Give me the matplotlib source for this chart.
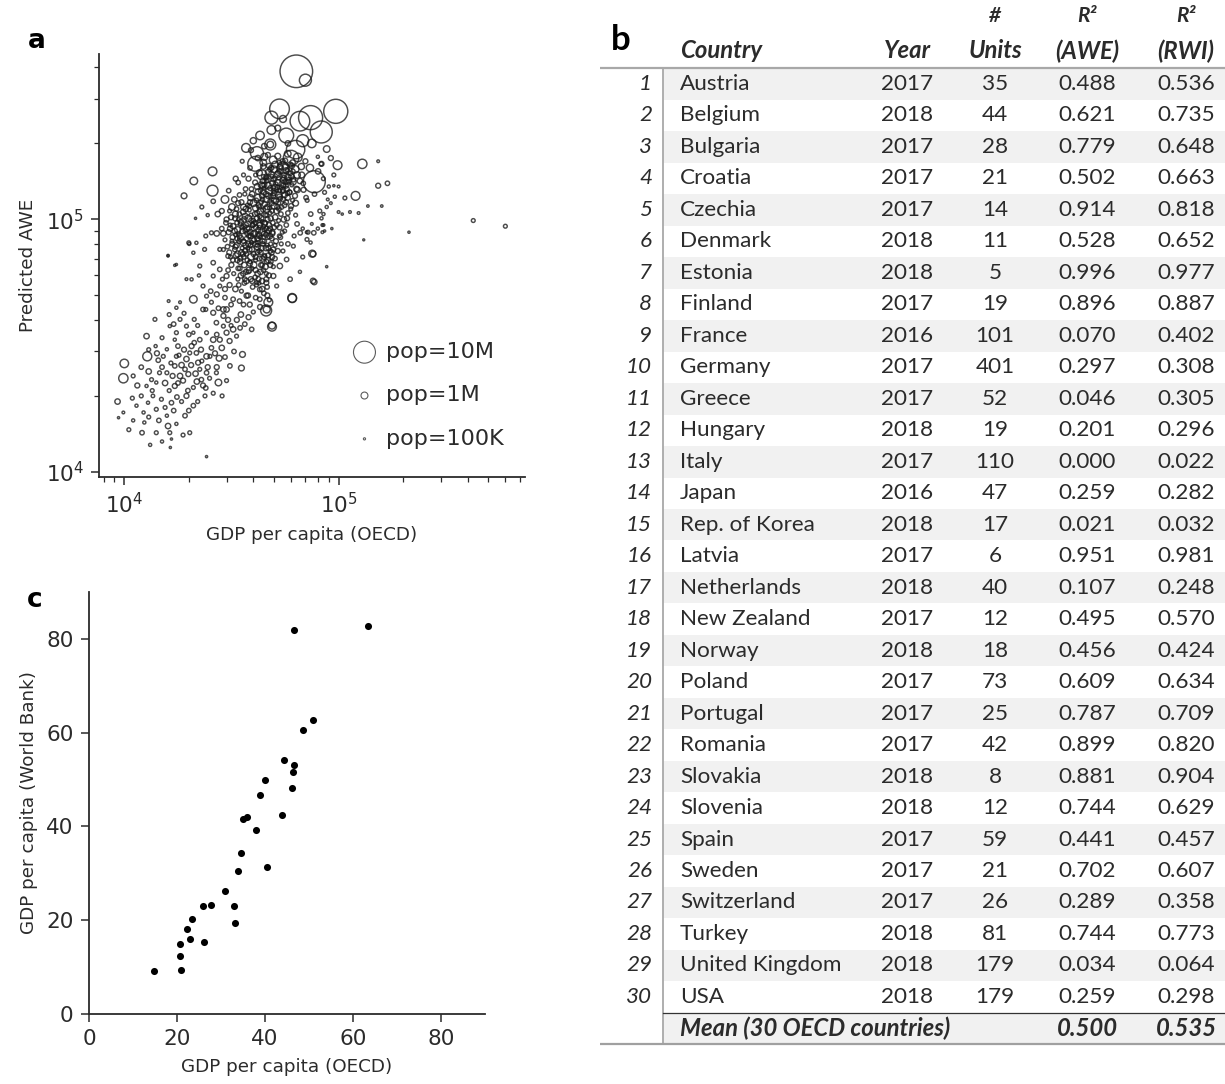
import numpy as np
import matplotlib.pyplot as plt
from matplotlib.patches import Rectangle

# ---- panel a: GDP per capita (k), predicted AWE (k), population (thousands)
a_big = [(63.5, 386, 22000), (70, 356, 3000), (53, 274, 8000), (97, 268, 12000),
         (74, 253, 12000), (66, 245, 8000), (83, 222, 10000), (63, 189, 7000),
         (57, 215, 4500), (48.6, 253, 3500), (48.6, 226, 1600), (48, 198, 2500),
         (48, 198, 900), (41.6, 183, 3500), (40.8, 166, 4500), (37, 192, 1600),
         (77, 141, 10000), (60, 175, 5000), (68, 205, 3000), (55, 160, 3000),
         (44, 150, 2000), (25.8, 155, 1600), (21.1, 142, 1200), (25.8, 130, 2500),
         (19.0, 124, 700), (98.9, 164, 1600), (129, 166, 1800), (120, 124, 1600)]

a_upper = [(42.0, 175, 600), (44.5, 168, 900), (46.8, 180, 500), (49.5, 172, 1200),
           (52.0, 178, 700), (54.8, 170, 500), (57.9, 182, 900), (61.0, 168, 600),
           (64.5, 176, 1500), (67.0, 162, 800), (70.0, 170, 500), (73.5, 160, 1100),
           (80.2, 155, 600), (83.2, 166, 500), (84.9, 145, 300), (81.7, 108, 300),
           (83.2, 101, 200), (74.1, 105, 400), (71.3, 119, 300), (77.2, 126, 400),
           (68.6, 131, 500), (67.3, 150, 700), (63.6, 132, 600), (61.2, 141, 900),
           (58.9, 128, 500), (56.6, 141, 600), (52.5, 146, 300), (50.4, 134, 800),
           (48.5, 160, 500), (45.9, 148, 400), (44.2, 136, 700), (45.0, 177, 1000),
           (38.6, 160, 400), (36.0, 150, 300), (34.0, 140, 400), (33.1, 145, 500),
           (30.7, 130, 400), (29.5, 120, 1200), (31.8, 112, 900), (27.3, 105, 600),
           (35.5, 170, 300), (40.0, 205, 800), (43.0, 215, 1500), (52.0, 230, 700),
           (55.0, 250, 1000), (58.0, 200, 600), (45.0, 195, 600), (39.0, 188, 500),
           (75, 200, 1500), (88, 190, 900), (92, 175, 500), (95, 150, 300),
           (90, 135, 200), (86, 128, 300), (100, 135, 150), (96, 123, 200),
           (92, 116, 150), (88, 112, 200), (84, 95, 150), (86, 90, 100),
           (80, 92, 200), (75, 96, 150), (72, 89, 300), (68, 92, 200),
           (64, 96, 400), (62, 86, 300), (58, 80, 400), (56, 90, 300), (55, 75, 300)]

a_core = [(44.5, 162, 600), (47.8, 158, 400), (50.6, 165, 900), (53.1, 155, 500),
          (56.2, 161, 700), (59.5, 152, 400), (62.8, 158, 1100), (48.9, 148, 300),
          (52.0, 151, 800), (55.5, 146, 500), (58.7, 143, 600), (45.9, 146, 400),
          (42.7, 153, 700), (40.8, 140, 500), (43.6, 137, 800), (46.2, 142, 300),
          (49.1, 139, 600), (51.8, 134, 400), (54.6, 138, 900), (57.3, 132, 500),
          (60.5, 137, 300), (64.2, 131, 700), (68.4, 139, 400), (39.2, 132, 400),
          (42.1, 129, 600), (44.8, 133, 300), (47.5, 130, 1000), (50.2, 127, 500),
          (53.0, 130, 300), (56.0, 125, 600), (59.2, 128, 400), (62.6, 124, 500),
          (36.5, 126, 300), (38.8, 122, 700), (41.3, 119, 400), (43.9, 124, 500),
          (46.0, 120, 800), (48.4, 123, 300), (50.9, 118, 600), (53.5, 121, 400),
          (56.8, 117, 500), (61.0, 119, 300), (70.5, 122, 400), (35.2, 117, 500),
          (37.6, 114, 300), (40.1, 116, 900), (42.6, 112, 400), (45.2, 115, 600),
          (47.6, 111, 300), (50.0, 113, 700), (52.7, 110, 400), (55.9, 114, 500),
          (59.8, 110, 300), (33.4, 110, 400), (35.9, 107, 600), (38.3, 109, 300),
          (40.7, 105, 500), (43.1, 108, 800), (45.5, 104, 400), (47.9, 106, 300),
          (50.6, 102, 600), (53.8, 105, 400), (57.5, 101, 500), (63.0, 104, 300),
          (31.5, 102, 500), (34.1, 100, 300), (36.6, 103, 700), (39.0, 99, 400),
          (41.6, 101, 600), (44.0, 98, 300), (46.6, 100, 500), (49.3, 97, 400),
          (52.5, 99, 300), (29.8, 97, 400), (32.2, 94, 600), (34.7, 96, 300),
          (37.2, 92, 800), (39.6, 95, 400), (42.2, 91, 500), (44.7, 94, 300),
          (47.3, 90, 600), (50.1, 93, 400), (54.6, 89, 300), (30.7, 89, 500),
          (33.1, 87, 300), (35.6, 90, 600), (38.1, 86, 400), (40.5, 88, 700),
          (43.2, 85, 300), (45.9, 87, 500), (48.8, 84, 400), (52.9, 86, 300),
          (29.5, 83, 300), (31.9, 80, 500), (34.3, 82, 400), (36.8, 79, 600),
          (39.2, 81, 300), (41.8, 78, 800), (44.3, 80, 400), (47.0, 77, 500),
          (50.5, 79, 300), (32.8, 76, 400), (35.2, 74, 600), (37.7, 77, 300),
          (40.1, 73, 500), (42.6, 75, 400), (45.2, 72, 300), (48.6, 74, 600),
          (31.3, 71, 300), (33.7, 69, 500), (36.1, 71, 400), (38.5, 67, 600),
          (41.0, 69, 300), (43.5, 66, 500), (46.2, 68, 400), (49.6, 65, 300),
          (34.6, 64, 400), (37.0, 62, 500), (39.4, 64, 300), (41.9, 61, 600),
          (44.6, 63, 400), (47.3, 60, 500), (33.9, 58, 300), (36.3, 56, 400),
          (38.9, 58, 500), (41.4, 55, 300), (43.9, 57, 600), (46.4, 54, 400),
          (35.2, 52, 300), (37.8, 50, 500), (44.8, 51, 400), (47.5, 48, 300)]

a_core2 = [(33.0, 105, 700), (35.0, 98, 500), (37.9, 101, 900), (40.3, 96, 600),
           (42.9, 103, 400), (45.0, 96, 700), (48.2, 101, 500), (51.5, 95, 400),
           (31.2, 92, 600), (33.8, 91, 800), (36.2, 94, 400), (38.7, 89, 700),
           (41.1, 93, 500), (43.8, 89, 900), (46.1, 92, 400), (49.0, 88, 600),
           (32.0, 85, 500), (34.9, 84, 700), (37.4, 88, 400), (39.9, 83, 900),
           (42.5, 87, 600), (45.0, 82, 400), (47.7, 86, 700), (51.0, 82, 500),
           (30.3, 78, 400), (33.4, 79, 600), (35.9, 81, 800), (38.4, 76, 500),
           (41.0, 80, 700), (43.7, 77, 600), (46.4, 79, 300), (49.5, 76, 500),
           (33.8, 73, 700), (36.6, 75, 500), (39.0, 71, 900), (41.8, 74, 400),
           (44.1, 70, 600), (47.0, 72, 500), (34.7, 68, 600), (37.5, 69, 400),
           (40.2, 66, 800), (42.7, 70, 500), (45.5, 65, 700), (48.3, 68, 400),
           (35.9, 61, 500), (38.2, 63, 700), (40.8, 59, 400), (43.2, 62, 600),
           (46.0, 58, 500), (37.1, 57, 600), (39.7, 54, 400), (42.3, 58, 500),
           (36.0, 112, 700), (38.6, 117, 500), (41.0, 111, 800), (43.5, 117, 400),
           (46.1, 110, 900), (48.8, 116, 500), (51.3, 108, 600), (54.2, 112, 400),
           (39.5, 126, 600), (42.0, 122, 900), (44.6, 128, 500), (47.1, 124, 700),
           (49.7, 130, 400), (52.4, 125, 800), (55.0, 131, 500), (57.8, 122, 600),
           (41.7, 135, 700), (44.2, 142, 500), (46.9, 136, 900), (49.6, 144, 400),
           (52.2, 140, 700), (55.3, 136, 500), (58.0, 147, 800), (61.5, 144, 500),
           (47.0, 154, 700), (50.0, 158, 900), (53.5, 162, 500), (57.0, 156, 700),
           (60.4, 163, 600), (64.0, 150, 900), (66.0, 142, 600), (63.0, 116, 700),
           (60.0, 113, 500), (58.0, 106, 400), (55.5, 100, 600), (53.0, 93, 500),
           (57.0, 95, 400), (30.0, 100, 500), (28.5, 92, 400), (29.0, 88, 600),
           (31.0, 108, 300), (34.0, 116, 500), (36.8, 132, 400), (38.0, 145, 500),
           (41.0, 150, 300), (34.5, 125, 400), (32.6, 120, 600), (48.0, 66, 500),
           (50.5, 70, 400), (52.0, 75, 500), (54.0, 80, 300), (53.5, 85, 400),
           (44.0, 53, 600), (46.5, 50, 500), (41.0, 49, 400), (38.5, 46, 500),
           (36.0, 46, 400), (40.0, 43, 300), (43.0, 45, 500)]

a_core3 = [(30.5, 63, 400), (31.6, 66, 500), (32.4, 61, 300), (33.2, 72, 600),
           (34.0, 64, 400), (34.8, 70, 500), (35.5, 77, 300), (36.3, 66, 600),
           (37.1, 73, 400), (37.9, 80, 500), (38.6, 68, 300), (39.4, 76, 600),
           (40.2, 83, 400), (41.0, 71, 500), (41.8, 79, 300), (42.6, 86, 600),
           (43.4, 74, 400), (44.2, 82, 500), (45.0, 91, 300), (45.8, 77, 600),
           (46.6, 85, 400), (47.4, 95, 500), (48.2, 80, 300), (49.0, 89, 600),
           (30.9, 74, 500), (31.8, 82, 300), (32.7, 90, 600), (33.6, 97, 400),
           (34.5, 86, 500), (35.4, 93, 300), (36.3, 100, 600), (37.2, 84, 400),
           (38.1, 92, 500), (39.0, 104, 300), (39.9, 88, 600), (40.8, 97, 400),
           (41.7, 106, 500), (42.6, 93, 300), (43.5, 101, 600), (44.4, 109, 400),
           (45.3, 97, 500), (46.2, 104, 300), (32.1, 69, 400), (33.0, 78, 500),
           (34.0, 88, 300), (35.0, 60, 600), (36.0, 82, 400), (37.0, 95, 500),
           (38.0, 62, 300), (39.0, 86, 600), (40.0, 99, 400), (41.0, 63, 500),
           (42.0, 81, 300), (43.0, 95, 600), (44.0, 66, 400), (45.0, 71, 500),
           (46.0, 61, 300), (47.0, 69, 600), (48.0, 75, 400), (49.0, 71, 500),
           (36.5, 58, 400), (39.5, 57, 500), (42.5, 56, 300), (34.2, 55, 400),
           (31.2, 95, 300), (32.9, 101, 500), (34.4, 105, 400), (36.9, 110, 600),
           (38.4, 113, 300), (33.7, 84, 500), (36.7, 90, 400), (39.7, 95, 500),
           (42.7, 99, 300), (35.8, 73, 500), (38.8, 79, 400), (41.8, 84, 600),
           (44.8, 88, 400), (47.8, 92, 500), (42.3, 114, 500), (44.1, 120, 400),
           (45.9, 126, 600), (47.7, 118, 300), (49.5, 124, 500), (51.3, 131, 400),
           (53.1, 123, 600), (54.9, 129, 300), (56.7, 136, 500), (58.5, 141, 400),
           (60.3, 148, 600), (43.2, 130, 300), (45.0, 137, 500), (46.8, 143, 400),
           (48.6, 151, 600), (50.4, 145, 300), (52.2, 153, 500), (54.0, 160, 400),
           (55.8, 150, 600), (57.6, 157, 300), (59.4, 165, 500), (61.2, 155, 400),
           (50.0, 119, 500), (52.6, 116, 300), (55.2, 120, 500), (57.8, 127, 400),
           (46.5, 112, 600), (48.9, 108, 400), (51.7, 112, 500), (53.9, 134, 300),
           (50.8, 138, 400), (48.0, 133, 500), (55.0, 143, 600), (44.6, 148, 300),
           (47.3, 163, 500), (52.9, 168, 400), (56.3, 171, 500)]

a_band = [(10, 26.9, 1500), (9.9, 23.5, 1800), (12.8, 28.7, 1700), (12.7, 34.5, 600),
          (13.9, 40.2, 300), (9.3, 19.0, 600), (9.4, 16.4, 100), (9.9, 17.2, 150),
          (10.9, 19.6, 300), (11.4, 18.3, 200), (10.5, 14.7, 300), (12.1, 14.3, 400),
          (14.1, 14.3, 300), (12.3, 17.2, 200), (12.4, 15.7, 200), (12.9, 18.8, 200),
          (13.6, 20.0, 250), (14.1, 17.7, 300), (14.6, 24.7, 300), (14.4, 27.7, 400),
          (15.2, 28.7, 300), (15.8, 24.7, 300), (16.0, 15.2, 600), (16.3, 14.3, 300),
          (16.6, 13.5, 100), (16.6, 18.8, 400), (17.2, 21.9, 500), (17.2, 26.3, 400),
          (17.5, 28.7, 300), (17.8, 31.5, 400), (17.2, 33.4, 200), (18.2, 24.0, 600),
          (18.8, 23.0, 500), (19.2, 25.5, 400), (19.9, 24.4, 500), (19.5, 28.0, 600),
          (20.2, 29.6, 300), (20.6, 31.5, 500), (21.0, 18.3, 400), (20.2, 14.3, 300),
          (19.2, 16.7, 400), (21.0, 21.6, 300), (21.7, 29.6, 400), (22.1, 27.1, 500),
          (22.5, 25.5, 300), (22.9, 23.2, 400), (23.3, 22.0, 500), (23.8, 20.0, 300),
          (24.2, 24.7, 400), (25.1, 28.7, 300), (26.0, 33.4, 600), (26.9, 24.7, 300),
          (27.7, 28.2, 700), (27.5, 22.6, 900), (28.6, 20.0, 300), (30.0, 23.0, 300),
          (31.1, 26.3, 400), (35.2, 25.8, 700), (35.6, 29.2, 700), (27.9, 33.4, 500),
          (30.0, 35.6, 500), (32.2, 36.7, 600), (34.7, 37.2, 400), (39.3, 36.7, 400),
          (33.4, 34.5, 300), (29.0, 37.8, 300), (26.9, 39.0, 400), (24.2, 35.6, 300),
          (22.5, 33.4, 400), (21.0, 35.6, 200), (19.5, 37.8, 300), (18.2, 40.2, 300),
          (16.3, 37.8, 200), (16.2, 42.0, 300), (17.5, 44.7, 200), (16.1, 47.5, 150),
          (21.0, 48.3, 1200), (23.3, 44.0, 400), (26.0, 42.7, 500), (30.0, 44.0, 600),
          (32.2, 48.3, 400), (37.2, 49.9, 500), (42.9, 48.3, 400), (46.2, 44.0, 1000),
          (48.9, 38.0, 1000), (60.8, 48.7, 1500), (76.0, 57.1, 600), (24.2, 28.7, 600),
          (21.2, 40.2, 300), (17.5, 35.6, 300), (15.8, 30.6, 200), (14.9, 19.4, 300),
          (15.8, 16.7, 200), (24.2, 11.5, 100), (12.7, 21.9, 200), (13.4, 23.2, 300),
          (14.1, 22.6, 200), (16.0, 72, 100), (17.5, 66.3, 100), (20.0, 80.8, 300),
          (21.0, 73.8, 200), (22.5, 65.4, 300), (20.6, 57.9, 200), (23.3, 54.5, 300),
          (26.0, 59.7, 300), (24.2, 49.7, 300), (27.9, 54.5, 300), (21.7, 80.8, 200),
          (23.7, 76.1, 300), (26.0, 67.4, 400), (27.9, 63.4, 400), (30.0, 59.7, 500),
          (30.5, 71.6, 400), (27.9, 76.1, 300), (25.5, 88.5, 300), (21.5, 101, 100),
          (20.1, 80, 200), (16.0, 71.7, 100), (17.2, 65.8, 100), (23.0, 112, 300),
          (24.5, 104, 200), (26.0, 118, 400), (28.5, 108, 500), (27.0, 88, 600),
          (29.0, 76, 300), (24.0, 86, 300), (22.3, 60, 200), (19.5, 58, 150),
          (28.7, 58, 300), (25.3, 52, 400), (29.5, 53, 500), (18.2, 47, 150),
          (24.0, 44, 300), (29.0, 44, 600), (31.5, 46, 400), (30.5, 40, 500)]

a_band2 = [(11.0, 24.0, 300), (11.5, 22.0, 500), (12.0, 26.0, 400), (13.0, 25.0, 600),
           (13.5, 21.0, 300), (14.2, 29.5, 500), (15.0, 26.0, 400), (15.5, 22.5, 600),
           (16.5, 27.0, 300), (16.8, 24.0, 500), (17.8, 22.5, 400), (18.5, 26.5, 600),
           (19.0, 30.5, 500), (18.0, 29.0, 300), (19.8, 21.0, 400), (20.5, 26.5, 500),
           (21.5, 24.5, 600), (21.2, 32.5, 400), (22.8, 30.5, 500), (23.0, 27.5, 300),
           (24.5, 26.0, 500), (25.5, 31.0, 400), (25.0, 23.5, 300), (26.5, 29.5, 500),
           (27.0, 35.0, 400), (28.5, 31.0, 600), (29.5, 28.5, 400), (31.0, 33.0, 500),
           (32.5, 30.0, 400), (33.5, 40.0, 500), (35.0, 42.0, 600), (36.5, 38.5, 400),
           (38.0, 41.0, 500), (31.5, 38.0, 300), (29.0, 41.5, 500), (27.5, 44.5, 400),
           (25.5, 47.0, 300), (27.0, 50.5, 500), (29.5, 49.0, 400), (31.0, 55.0, 500),
           (33.0, 53.0, 600), (34.5, 47.5, 400), (22.0, 38.0, 300), (20.0, 35.0, 400),
           (19.0, 42.5, 300), (17.0, 38.5, 400), (15.0, 34.0, 300), (14.0, 31.5, 200),
           (13.0, 30.5, 300), (12.0, 20.0, 300), (11.0, 16.0, 200), (13.0, 16.5, 300),
           (14.5, 16.0, 400), (15.5, 18.0, 300), (17.0, 17.5, 400), (18.5, 19.0, 300),
           (20.0, 17.5, 400), (22.0, 19.0, 300), (17.5, 15.5, 200), (18.8, 14.0, 300),
           (15.0, 13.2, 200), (13.2, 12.8, 200), (16.4, 12.5, 100), (19.5, 20.0, 500),
           (21.8, 22.8, 600), (17.6, 19.8, 400), (16.2, 21.0, 300), (24.0, 21.5, 400),
           (26.0, 20.5, 300), (27.0, 26.0, 500)]

a_right = [(153, 136, 500), (169, 139, 400), (153, 170, 150), (425, 99, 300),
           (600, 94, 300), (213, 89, 100), (131, 83, 80), (88, 65, 100),
           (77, 56.5, 600), (76, 73, 700), (60.7, 48.9, 1600), (45.9, 43.6, 2500),
           (48.9, 37.6, 1600), (47, 47, 1600), (100, 107, 150), (104, 105, 100),
           (113, 107, 150), (124, 106, 150), (137, 113, 120), (159, 113, 120),
           (107, 121.6, 300), (83, 166, 300), (95, 136, 100), (80, 177, 200),
           (89, 120, 150), (85, 105, 200), (93, 92, 100), (85, 95, 150),
           (84, 89, 150), (74, 81, 200), (71, 89, 150), (68, 71, 300),
           (66, 62, 200), (75.3, 73.2, 1000), (76.6, 88.5, 400), (49.6, 59.7, 500),
           (53.2, 65.4, 600), (57.2, 69.4, 400), (61.5, 78.4, 300), (66.2, 88.5, 400),
           (71.2, 83.3, 300), (59.4, 58.0, 400), (51.4, 54.5, 300), (42.9, 52.8, 400),
           (46.0, 56.2, 500), (41.5, 56.2, 300)]

# ---- panel b: table
countries = ["Austria", "Belgium", "Bulgaria", "Croatia", "Czechia", "Denmark",
             "Estonia", "Finland", "France", "Germany", "Greece", "Hungary", "Italy",
             "Japan", "Rep. of Korea", "Latvia", "Netherlands", "New Zealand",
             "Norway", "Poland", "Portugal", "Romania", "Slovakia", "Slovenia",
             "Spain", "Sweden", "Switzerland", "Turkey", "United Kingdom", "USA"]
years = [2017, 2018, 2017, 2017, 2017, 2018, 2018, 2017, 2016, 2017, 2017, 2018,
         2017, 2016, 2018, 2017, 2018, 2017, 2018, 2017, 2017, 2017, 2018, 2018,
         2017, 2017, 2017, 2018, 2018, 2018]
units = [35, 44, 28, 21, 14, 11, 5, 19, 101, 401, 52, 19, 110, 47, 17, 6, 40, 12,
         18, 73, 25, 42, 8, 12, 59, 21, 26, 81, 179, 179]
r2_awe = [0.488, 0.621, 0.779, 0.502, 0.914, 0.528, 0.996, 0.896, 0.070, 0.297,
          0.046, 0.201, 0.000, 0.259, 0.021, 0.951, 0.107, 0.495, 0.456, 0.609,
          0.787, 0.899, 0.881, 0.744, 0.441, 0.702, 0.289, 0.744, 0.034, 0.259]
r2_rwi = [0.536, 0.735, 0.648, 0.663, 0.818, 0.652, 0.977, 0.887, 0.402, 0.308,
          0.305, 0.296, 0.022, 0.282, 0.032, 0.981, 0.248, 0.570, 0.424, 0.634,
          0.709, 0.820, 0.904, 0.629, 0.457, 0.607, 0.358, 0.773, 0.064, 0.298]
mean_awe = 0.500
mean_rwi = 0.535

# ---- panel c: GDP per capita (k), OECD vs World Bank
c_oecd = [46.7, 63.5, 50.9, 48.6, 44.3, 46.5, 46.4, 46.2, 40.1, 38.8, 43.8, 34.9,
          36.0, 38.0, 34.5, 33.8, 40.5, 30.9, 25.9, 27.7, 32.9, 33.1, 23.5, 22.2,
          23.0, 26.2, 20.7, 20.6, 21.0, 14.7]
c_wb = [81.8, 82.8, 62.6, 60.5, 54.2, 53.0, 51.6, 48.2, 50.0, 46.6, 42.5, 41.5,
        42.0, 39.3, 34.4, 30.5, 31.4, 26.2, 23.0, 23.2, 23.0, 19.5, 20.3, 18.1,
        15.9, 15.4, 14.9, 12.3, 9.3, 9.2]

W, H = 1225, 1084
ink = "#2b2b2b"
plt.rcParams['font.family'] = 'DejaVu Sans'
plt.rcParams['axes.edgecolor'] = ink
plt.rcParams['xtick.color'] = ink
plt.rcParams['ytick.color'] = ink
plt.rcParams['axes.labelcolor'] = ink

fig = plt.figure(figsize=(W / 100, H / 100), dpi=100)

def style(ax, size):
    for s in ['top', 'right']:
        ax.spines[s].set_visible(False)
    for s in ['left', 'bottom']:
        ax.spines[s].set_linewidth(1.3)
    ax.tick_params(which='major', direction='out', length=6, width=1.1, pad=5)
    ax.tick_params(which='minor', direction='out', length=3.5, width=0.9)
    ax.tick_params(labelsize=size)

# panel a
ax = fig.add_axes([99 / W, 1 - 477 / H, 426 / W, 423 / H])
pts = np.array(a_big + a_upper + a_core + a_core2 + a_core3 + a_band + a_band2 + a_right,
               dtype=float)
ax.scatter(pts[:, 0] * 1000, pts[:, 1] * 1000, s=pts[:, 2] * 0.025,
           facecolors='none', edgecolors='#1a1a1a', linewidths=1.05, alpha=0.78)
ax.set_xscale('log')
ax.set_yscale('log')
ax.set_xlim(7.62e3, 7.41e5)
ax.set_ylim(9.55e3, 4.52e5)
style(ax, 15.5)
ax.set_xlabel("GDP per capita (OECD)", fontsize=13.2, labelpad=6)
ax.set_ylabel("Predicted AWE", fontsize=13.2, labelpad=6)
handles = [ax.scatter([], [], s=p * 0.025, facecolors='none', edgecolors='#333333',
                      linewidths=0.8, alpha=0.8) for p in [10000, 1000, 100]]
ax.legend(handles, ["pop=10M", "pop=1M", "pop=100K"], loc='center left',
          bbox_to_anchor=(0.571, 0.193), frameon=False, fontsize=16,
          handlelength=1.0, handletextpad=0.46, borderpad=0, labelspacing=1.05,
          scatterpoints=1, labelcolor=ink)
fig.text(37 / W, 1 - 41 / H, "a", fontsize=19, fontweight='bold', ha='center', va='center')

# panel c
axc = fig.add_axes([89 / W, 1 - 1014 / H, 396 / W, 422 / H])
axc.scatter(c_oecd, c_wb, s=26, color='black', linewidths=0)
axc.set_xlim(0, 90)
axc.set_ylim(0, 90)
axc.set_xticks([0, 20, 40, 60, 80])
axc.set_yticks([0, 20, 40, 60, 80])
style(axc, 15.5)
axc.set_xlabel("GDP per capita (OECD)", fontsize=13.2, labelpad=6)
axc.set_ylabel("GDP per capita (World Bank)", fontsize=13.2, labelpad=6)
fig.text(35 / W, 1 - 600 / H, "c", fontsize=19, fontweight='bold', ha='center', va='center')

# panel b (table drawn in pixel coordinates)
axb = fig.add_axes([600 / W, 0, 625 / W, 1])
axb.set_xlim(600, 1225)
axb.set_ylim(H, 0)
axb.axis('off')
tf = ['Lato', 'DejaVu Sans']
fs = 16.2
fsb = 17.2
y0, dy = 84, 31.48
x_num, x_name, x_year, x_units, x_awe, x_rwi = 652, 680, 907, 995, 1087, 1186

n = len(countries)
for i in range(n + 1):
    yc = y0 + i * dy
    if i % 2 == 0:
        axb.add_patch(Rectangle((663, yc - dy / 2), 1225 - 663, dy,
                                facecolor='#f1f1f1', edgecolor='none', zorder=0))

for i in range(n):
    yc = y0 + i * dy
    kw = dict(fontsize=fs, family=tf, color=ink, va='center')
    axb.text(x_num, yc, str(i + 1), ha='right', style='italic', **kw)
    axb.text(x_name, yc, countries[i], ha='left', **kw)
    axb.text(x_year, yc, str(years[i]), ha='center', **kw)
    axb.text(x_units, yc, str(units[i]), ha='center', **kw)
    axb.text(x_awe, yc, f"{r2_awe[i]:.3f}", ha='center', **kw)
    axb.text(x_rwi, yc, f"{r2_rwi[i]:.3f}", ha='center', **kw)

ym = y0 + n * dy
hk = dict(fontsize=fsb, family=tf, color=ink, va='center', style='italic', fontweight='bold')
axb.text(x_name, ym, "Mean (30 OECD countries)", ha='left', **hk)
axb.text(x_awe, ym, f"{mean_awe:.3f}", ha='center', **hk)
axb.text(x_rwi, ym, f"{mean_rwi:.3f}", ha='center', **hk)

# header
axb.text(x_name, 51, "Country", ha='left', **hk)
axb.text(x_year, 51, "Year", ha='center', **hk)
axb.text(x_units, 51, "Units", ha='center', **hk)
axb.text(x_awe, 51, "(AWE)", ha='center', **hk)
axb.text(x_rwi, 51, "(RWI)", ha='center', **hk)
hk2 = dict(hk, fontsize=15)
axb.text(x_units, 16, "#", ha='center', **hk2)
axb.text(x_awe, 16, "R²", ha='center', **hk2)
axb.text(x_rwi, 16, "R²", ha='center', **hk2)
axb.text(621, 40, "b", fontsize=25, fontweight='bold', ha='center', va='center', family=tf)

axb.plot([600, 1225], [68, 68], color='#a8a8a8', lw=1.6, solid_capstyle='butt')
axb.plot([663, 663], [68, ym + dy / 2], color='#a8a8a8', lw=1.3)
axb.plot([663, 1225], [ym - dy / 2, ym - dy / 2], color='#333333', lw=0.9)
axb.plot([600, 1225], [ym + dy / 2, ym + dy / 2], color='#a0a0a0', lw=1.6, solid_capstyle='butt')

fig.savefig("out.png", dpi=100)
